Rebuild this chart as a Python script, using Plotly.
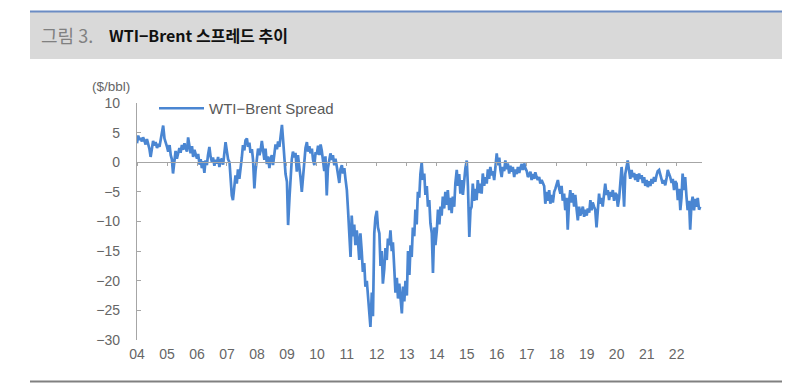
import pandas as pd
import plotly.graph_objects as go

# WTI-Brent spread, semi-monthly readings ($/bbl), Jan 2004 - Oct 2022
v2004 = [3.2, 4.5, 3.8, 4.1, 3.5, 4.2, 3.6, 3.0, 3.9, 3.3, 2.2, 0.9, 2.5, 3.6, 2.8, 3.4, 2.4, 3.1, 2.6, 3.8, 4.6, 6.2, 4.0, 3.1]
v2005 = [2.6, 1.8, 2.9, 1.2, 0.5, -1.9, 0.8, 1.9, 0.6, 1.5, 2.4, 1.6, 2.9, 2.1, 3.2, 2.4, 1.8, 4.2, 2.2, 1.5, 2.7, 0.9, 2.1, 1.2]
v2006 = [0.6, 1.4, -0.4, 0.5, -1.0, 0.2, -1.8, 0.3, -0.5, 1.2, 2.6, 1.0, 0.1, 0.8, -0.6, 0.4, -0.2, 0.9, -0.8, 0.3, 0.6, -0.4, 1.5, 3.4]
v2007 = [1.8, 0.5, 0.0, -2.5, -5.6, -6.4, -4.5, -2.2, -3.6, -1.2, -2.8, -0.5, 0.8, 2.9, 2.0, 3.7, 4.0, 2.6, 3.3, 1.6, 2.2, 0.4, -4.4, -1.5]
v2008 = [1.4, 2.3, 1.2, 2.0, 3.6, 1.9, 0.4, 2.3, -0.3, 1.0, -1.0, 0.6, 1.2, -0.5, 1.8, 3.0, 2.2, 3.5, 2.6, 4.0, 6.3, 3.8, 0.5, -2.0]
v2009 = [-3.3, -10.6, -6.0, -2.0, 0.5, 1.8, 0.8, 1.6, -1.6, 1.2, -0.4, -2.5, -5.0, -3.0, 0.5, 2.4, 3.4, 1.8, 2.7, 1.5, 2.3, 0.4, -0.5, 1.5]
v2010 = [1.5, 2.8, 1.2, 3.0, 2.0, 0.5, -1.5, 1.0, -5.6, -1.0, 0.8, 1.5, 0.4, 1.2, -0.5, 0.6, -0.8, -2.0, -3.5, -1.2, -0.5, -1.9, -1.0, -2.8]
v2011 = [-4.7, -8.0, -12.0, -16.0, -9.0, -12.5, -10.5, -14.0, -11.5, -13.0, -16.5, -12.0, -15.0, -18.5, -17.0, -21.0, -20.0, -22.6, -24.5, -27.8, -22.0, -26.0, -12.0, -9.3]
v2012 = [-8.2, -11.0, -12.0, -17.5, -15.0, -20.5, -18.0, -14.5, -16.5, -12.9, -14.0, -11.5, -15.0, -13.5, -18.0, -22.0, -19.5, -23.0, -20.5, -22.5, -25.5, -21.0, -23.5, -20.0]
v2013 = [-22.5, -15.0, -19.0, -14.0, -16.0, -11.0, -12.5, -8.0, -10.5, -5.0, -6.0, -2.0, 0.0, -3.0, -1.9, -5.5, -4.0, -7.5, -6.4, -10.3, -12.0, -18.7, -11.0, -14.0]
v2014 = [-11.5, -8.0, -10.5, -7.5, -9.0, -5.8, -7.8, -5.0, -7.2, -4.7, -8.1, -6.0, -8.6, -5.8, -7.5, -3.5, -1.3, -4.0, -2.0, -5.3, -3.0, -5.5, -2.5, -1.0]
v2015 = [0.3, -4.0, -12.6, -8.0, -7.5, -3.6, -6.5, -4.5, -6.4, -3.0, -5.2, -3.6, -5.3, -1.9, -4.0, -2.5, -3.6, -1.2, -2.8, -0.8, -2.2, -1.5, -3.0, -0.8]
v2016 = [1.5, -0.5, 0.8, -1.3, -2.5, -0.8, -1.5, 0.3, -1.2, -0.2, -1.9, -0.6, -1.6, -0.8, -2.5, -1.2, -2.0, -0.8, -1.8, -1.0, -0.3, -1.3, -0.2, -1.0]
v2017 = [-1.5, -2.5, -1.8, -1.6, -3.0, -2.0, -2.8, -1.7, -2.5, -3.0, -2.5, -3.6, -3.0, -3.5, -4.0, -7.0, -5.0, -6.5, -4.7, -7.0, -5.5, -6.8, -5.0, -4.5]
v2018 = [-3.8, -3.0, -4.5, -5.3, -4.0, -6.5, -5.3, -8.1, -6.0, -11.4, -6.5, -4.7, -6.8, -5.2, -7.5, -5.5, -8.0, -9.8, -7.5, -9.0, -8.2, -7.5, -9.2, -8.0]
v2019 = [-9.0, -7.8, -8.5, -6.4, -8.1, -6.8, -7.5, -8.0, -11.0, -7.5, -5.3, -7.0, -6.0, -7.5, -5.0, -3.6, -5.5, -4.7, -6.4, -5.0, -5.8, -4.7, -6.5, -5.2]
v2020 = [-5.5, -7.5, -6.0, -4.0, -0.8, -3.0, -7.5, -2.0, -0.5, 0.3, -1.5, -2.8, -1.3, -2.5, -1.8, -3.0, -2.0, -3.3, -1.9, -2.8, -2.2, -3.5, -2.5, -4.0]
v2021 = [-3.0, -4.2, -3.2, -4.0, -2.8, -3.6, -2.5, -3.3, -2.2, -1.5, -1.3, -2.0, -2.5, -3.6, -3.0, -3.9, -2.6, -1.3, -2.0, -2.5, -3.5, -2.8, -4.7, -3.2]
v2022 = [-3.6, -6.4, -4.5, -8.1, -6.0, -1.9, -4.7, -2.5, -5.8, -8.1, -6.5, -11.4, -7.0, -5.8, -8.1, -6.2, -7.5, -6.0, -8.0, -7.5]

spread = (v2004 + v2005 + v2006 + v2007 + v2008 + v2009 + v2010 + v2011 + v2012 + v2013
          + v2014 + v2015 + v2016 + v2017 + v2018 + v2019 + v2020 + v2021 + v2022)
dates = pd.date_range("2004-01-01", periods=len(spread), freq="SMS")

tick_years = list(range(2004, 2023))
tick_vals = [f"{y}-01-01" for y in tick_years]
tick_text = [f"{y % 100:02d}" for y in tick_years]
y_ticks = [10, 5, 0, -5, -10, -15, -20, -25, -30]

series_name = "WTI−Brent Spread"
line_color = "#4a86d2"
axis_color = "#a6a6a6"
text_gray = "#666666"
FONT = "Liberation Sans, Arial, sans-serif"
KFONT = "Noto Sans CJK KR, sans-serif"

fig = go.Figure()
fig.add_trace(go.Scatter(x=dates, y=spread, mode="lines", name=series_name,
                         line=dict(color=line_color, width=2.7), xaxis="x", yaxis="y"))
# invisible helper on the zero-line axis so it renders
fig.add_trace(go.Scatter(x=[dates[0]], y=[0], mode="markers", marker=dict(opacity=0),
                         showlegend=False, hoverinfo="skip", xaxis="x2", yaxis="y"))

x_range = ["2004-01-01", "2022-11-06"]
L, R, T, B = 137, 98, 103, 44
W, H = 800, 384
pw, ph = W - L - R, H - T - B

def px_x(p):
    return (p - L) / pw

def px_y(p):
    return (H - B - p) / ph

fig.update_layout(
    width=W, height=H,
    margin=dict(l=L, r=R, t=T, b=B),
    paper_bgcolor="white", plot_bgcolor="white",
    showlegend=True,
    legend=dict(x=px_x(154), y=px_y(92), xanchor="left", yanchor="top",
                font=dict(family=FONT, size=15, color="#595959"),
                bgcolor="rgba(0,0,0,0)", itemwidth=45),
    xaxis=dict(type="date", range=x_range, tickmode="array", tickvals=tick_vals,
               ticktext=tick_text, showline=False, showgrid=False, zeroline=False,
               ticks="", tickfont=dict(family=FONT, size=14, color=text_gray),
               ticklabelstandoff=4),
    xaxis2=dict(type="date", range=x_range, overlaying="x", anchor="free", position=0.75,
                tickmode="array", tickvals=tick_vals, showticklabels=False,
                showline=True, linecolor=axis_color, linewidth=1.2,
                ticks="outside", ticklen=3, tickcolor=axis_color, tickwidth=1,
                showgrid=False, zeroline=False),
    yaxis=dict(range=[-30, 10], tickmode="array", tickvals=y_ticks,
               showline=True, linecolor=axis_color, linewidth=1.2,
               ticks="inside", ticklen=4, tickcolor=axis_color,
               showgrid=False, zeroline=False,
               tickfont=dict(family=FONT, size=14, color=text_gray),
               ticklabelstandoff=13),
)

shapes = [
    dict(type="rect", xref="paper", yref="paper", x0=px_x(30), x1=px_x(782),
         y0=px_y(59), y1=px_y(12), fillcolor="#d9d9d9", line=dict(width=0), layer="below"),
    dict(type="line", xref="paper", yref="paper", x0=px_x(30), x1=px_x(782),
         y0=px_y(11.5), y1=px_y(11.5), line=dict(color="#6b8cc4", width=2)),
    dict(type="line", xref="paper", yref="paper", x0=px_x(30), x1=px_x(782),
         y0=px_y(381.5), y1=px_y(381.5), line=dict(color="#808080", width=2)),
]
fig.update_layout(shapes=shapes)

fig.add_annotation(xref="paper", yref="paper", x=px_x(39), y=px_y(35), xanchor="left",
                   yanchor="middle", text="그림 3.", showarrow=False,
                   font=dict(family=KFONT, size=18, color="#808080"))
fig.add_annotation(xref="paper", yref="paper", x=px_x(107), y=px_y(35), xanchor="left",
                   yanchor="middle", text="<b>WTI−Brent 스프레드 추이</b>", showarrow=False,
                   font=dict(family=KFONT, size=16, color="#111111"))
fig.add_annotation(xref="paper", yref="paper", x=px_x(111), y=px_y(86), xanchor="center",
                   yanchor="middle", text="($/bbl)", showarrow=False,
                   font=dict(family=FONT, size=13.5, color=text_gray))

fig.write_html("out.html")
